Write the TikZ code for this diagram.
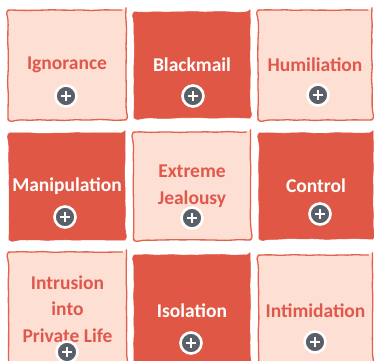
\documentclass[tikz,border=0pt]{standalone}
\usepackage{fontspec}
\setmainfont{Carlito}
\usetikzlibrary{decorations.pathmorphing}
\definecolor{tilered}{HTML}{E05845}
\definecolor{tilepink}{HTML}{FDDFD4}
\definecolor{tileedge}{HTML}{E0624F}
\definecolor{textred}{HTML}{E0584C}
\definecolor{icongrey}{HTML}{5B6068}
\begin{document}
\begin{tikzpicture}[x=1pt,y=-1pt,line cap=round,line join=round,
    tile/.style={rectangle,rounded corners=4pt,align=center,inner sep=0pt,
      font=\bfseries\fontsize{19.5}{26.5}\selectfont,
      decorate,decoration={random steps,segment length=7pt,amplitude=0.5pt}},
    lighttile/.style={tile,fill=tilepink,draw=tileedge,line width=1.3pt,text=textred},
    darktile/.style={tile,fill=tilered,draw=tilered,line width=0.6pt,text=white},
    plusicon/.style={circle,fill=icongrey,draw=white,line width=2.6pt,minimum size=21pt,inner sep=0pt,
      path picture={\draw[white,line width=2.6pt,line cap=butt]
        ([xshift=-5pt]path picture bounding box.center) -- ([xshift=5pt]path picture bounding box.center)
        ([yshift=-5pt]path picture bounding box.center) -- ([yshift=5pt]path picture bounding box.center);}}]
    \pgfmathsetseed{7}
    \clip (0,0) rectangle (374,360);
    \fill[white] (0,0) rectangle (374,360);
    % first row
    \node[lighttile,minimum width=118,minimum height=110] (ignorance) at (67,65) {Ignorance};
    \node[darktile,minimum width=116,minimum height=106] (blackmail) at (192,65) {Blackmail};
    \node[lighttile,minimum width=114,minimum height=110] (humiliation) at (315,65) {Humiliation};
    % second row
    \node[darktile,minimum width=116,minimum height=107] (manipulation) at (67,186.5) {Manipulation};
    \node[lighttile,minimum width=117,minimum height=108] (jealousy) at (192,186) {Extreme\\[1pt]Jealousy};
    \node[darktile,minimum width=114,minimum height=106] (control) at (316,186) {Control};
    % third row
    \node[lighttile,minimum width=118,minimum height=114] (intrusion) at (67.5,309) {Intrusion\\into\\Private Life};
    \node[darktile,minimum width=116,minimum height=112] (isolation) at (192,311) {Isolation};
    \node[lighttile,minimum width=114,minimum height=112] (intimidation) at (315.5,311) {Intimidation};
    % plus icons
    \foreach \nm/\pt in {1/{(66,96)},2/{(193,96)},3/{(318,95)},4/{(65,217)},5/{(192,218)},
                         6/{(320,214)},7/{(67,352)},8/{(191,343)},9/{(315,342)}}{
      \node[plusicon] (plus-\nm) at \pt {};
    }
\end{tikzpicture}
\end{document}
